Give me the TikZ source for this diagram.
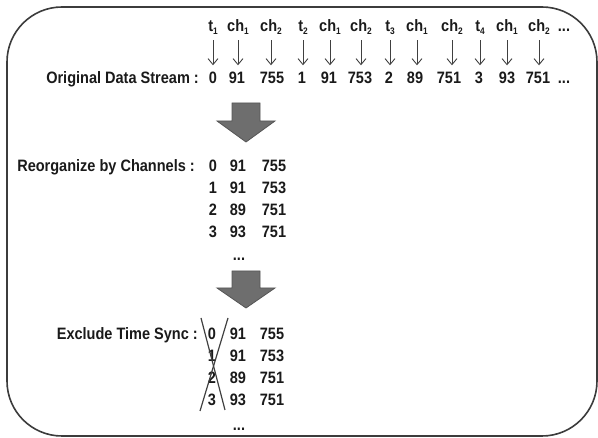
\documentclass[tikz,border=0pt]{standalone}
\usepackage{fontspec}
\setmainfont{Liberation Sans}[BoldFeatures={FakeStretch=0.88}]
\usetikzlibrary{arrows.meta}
\definecolor{txt}{HTML}{1A1A1A}
\definecolor{frame}{HTML}{3C3C3C}
\definecolor{bigfill}{HTML}{6E6E6E}
\definecolor{bigedge}{HTML}{555555}
\definecolor{thin}{HTML}{404040}
\newcommand\mysub[1]{\raisebox{-0.25ex}{\fontsize{9.5}{9.5}\selectfont #1}}
\tikzset{
  every node/.style={font=\fontsize{16.5}{18}\selectfont\bfseries, text=txt, inner sep=0pt},
  lab/.style={anchor=base, text height=11pt, text depth=2pt},
  num/.style={anchor=base, text height=11.5pt, text depth=0pt},
  ttl/.style={anchor=base east},
  arr/.style={draw=thin, line width=0.9pt, -{Straight Barb[length=6pt,width=10pt,line width=0.9pt]}, shorten <=6pt, shorten >=7pt},
  bigarrow/.style={fill=bigfill, draw=bigedge, line width=0.8pt},
  strike/.style={draw=thin, line width=1.2pt},
  framebox/.style={draw=frame, line width=1.6pt, rounded corners=55pt}
}
\begin{document}
\begin{tikzpicture}[x=1pt,y=1pt]
\useasboundingbox (0,0) rectangle (598,-438);
\path[framebox] (7,-7) rectangle (597,-436);

% top labels
\node[lab] (l1) at (213,-32) {t\mysub{1}};
\node[lab] (l2) at (238,-32) {ch\mysub{1}};
\node[lab] (l3) at (271,-32) {ch\mysub{2}};
\node[lab] (l4) at (303,-32) {t\mysub{2}};
\node[lab] (l5) at (330,-32) {ch\mysub{1}};
\node[lab] (l6) at (361,-32) {ch\mysub{2}};
\node[lab] (l7) at (390,-32) {t\mysub{3}};
\node[lab] (l8) at (417,-32) {ch\mysub{1}};
\node[lab] (l9) at (452,-32) {ch\mysub{2}};
\node[lab] (l10) at (480,-32) {t\mysub{4}};
\node[lab] (l11) at (507,-32) {ch\mysub{1}};
\node[lab] (l12) at (539,-32) {ch\mysub{2}};
\node[lab] (ld) at (564,-32) {...};

% numbers
\node[ttl] (t1) at (199,-84) {Original Data Stream :};
\node[num] (n1) at (213,-84) {0};
\node[num] (n2) at (237,-84) {91};
\node[num] (n3) at (272,-84) {755};
\node[num] (n4) at (302,-84) {1};
\node[num] (n5) at (329,-84) {91};
\node[num] (n6) at (360,-84) {753};
\node[num] (n7) at (389,-84) {2};
\node[num] (n8) at (415,-84) {89};
\node[num] (n9) at (449,-84) {751};
\node[num] (n10) at (479,-84) {3};
\node[num] (n11) at (507,-84) {93};
\node[num] (n12) at (538,-84) {751};
\node[num] (nd) at (564,-84) {...};

\foreach \i in {1,...,12}{
  \draw[arr] (l\i.south) -- (l\i.south |- n\i.north);
}

% big arrow 1
\path[bigarrow] (232,-103) -- (260,-103) -- (260,-121) -- (275,-121) -- (246,-142) -- (217,-121) -- (232,-121) -- cycle;

% reorganize
\node[ttl] (t2) at (195,-172) {Reorganize by Channels :};
\node[num] (r00) at (213,-172) {0};
\node[num] (r01) at (238,-172) {91};
\node[num] (r02) at (274,-172) {755};
\node[num] (r10) at (213,-194) {1};
\node[num] (r11) at (238,-194) {91};
\node[num] (r12) at (274,-194) {753};
\node[num] (r20) at (213,-216) {2};
\node[num] (r21) at (238,-216) {89};
\node[num] (r22) at (274,-216) {751};
\node[num] (r30) at (213,-238) {3};
\node[num] (r31) at (238,-238) {93};
\node[num] (r32) at (274,-238) {751};
\node[num] (rd) at (239,-261) {...};

% big arrow 2
\path[bigarrow] (232,-271) -- (260,-271) -- (260,-288) -- (275,-288) -- (246,-308) -- (217,-288) -- (232,-288) -- cycle;

% exclude
\node[ttl] (t3) at (198,-340) {Exclude Time Sync :};
\node[num] (e00) at (212,-340) {0};
\node[num] (e01) at (238,-340) {91};
\node[num] (e02) at (272,-340) {755};
\node[num] (e10) at (212,-362) {1};
\node[num] (e11) at (238,-362) {91};
\node[num] (e12) at (272,-362) {753};
\node[num] (e20) at (212,-384) {2};
\node[num] (e21) at (238,-384) {89};
\node[num] (e22) at (272,-384) {751};
\node[num] (e30) at (212,-406) {3};
\node[num] (e31) at (238,-406) {93};
\node[num] (e32) at (272,-406) {751};
\node[num] (ed) at (239,-431) {...};

\coordinate (sa1) at (201,-318);
\coordinate (sa2) at (225,-410);
\coordinate (sb1) at (228,-318);
\coordinate (sb2) at (200,-411);
\draw[strike] (sa1) -- (sa2);
\draw[strike] (sb1) -- (sb2);
\end{tikzpicture}
\end{document}
